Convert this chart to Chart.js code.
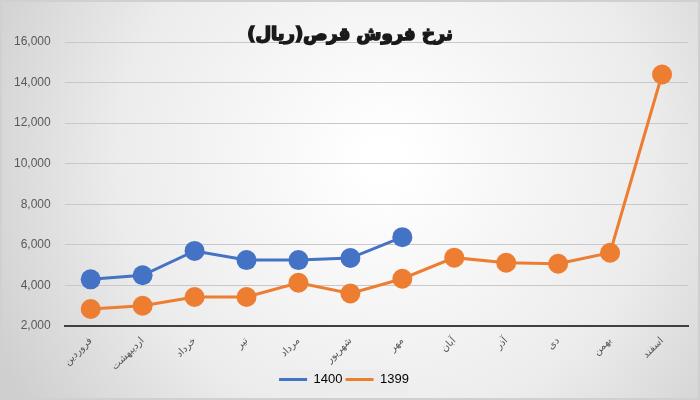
<!DOCTYPE html>
<html>
<head>
<meta charset="utf-8">
<script src="https://cdn.jsdelivr.net/npm/chart.js@4"></script>
<style>
  html, body { margin: 0; padding: 0; background: #fff; }
  #wrap { width: 700px; height: 400px; position: relative; }
</style>
</head>
<body>
<div id="wrap"><canvas id="nerkhChart"></canvas></div>
<script>
// داده‌ها
const mahha = ['فروردین', 'اردیبهشت', 'خرداد', 'تیر', 'مرداد', 'شهریور', 'مهر', 'آبان', 'آذر', 'دی', 'بهمن', 'اسفند'];
const sal1400 = [4300, 4500, 5700, 5250, 5250, 5350, 6380, null, null, null, null, null];
const sal1399 = [2840, 3000, 3430, 3430, 4130, 3600, 4330, 5370, 5120, 5070, 5610, 14400];
const titr = 'نرخ فروش قرص(ریال)';

// پس‌زمینه گرادیانی و عنوان و کادر راهنما
const pasZamine = {
    id: 'pasZamine',
    beforeDraw(chart) {
        const c = chart.ctx;
        const w = chart.width, h = chart.height;
        const g = c.createRadialGradient(w * 0.55, h * 0.4, 20, w * 0.55, h * 0.4, w * 0.62);
        g.addColorStop(0, '#ffffff');
        g.addColorStop(0.6, '#ececec');
        g.addColorStop(1, '#cfcfcf');
        c.save();
        c.fillStyle = g;
        c.fillRect(0, 0, w, h);
        c.strokeStyle = '#d0d0d0';
        c.lineWidth = 2;
        c.strokeRect(1, 1, w - 2, h - 2);
        const lg = chart.legend;
        if (lg) {
            c.fillStyle = 'rgba(236,236,236,1)';
            c.fillRect(lg.left + lg.width / 2 - 64, lg.top, 128, lg.height);
        }
        c.restore();
    },
    afterDraw(chart) {
        const c = chart.ctx;
        c.save();
        c.font = 'bold 18px "DejaVu Sans"';
        c.fillStyle = '#1a1a1a';
        c.strokeStyle = '#1a1a1a';
        c.lineWidth = 1.6;
        c.textAlign = 'center';
        c.textBaseline = 'middle';
        c.direction = 'rtl';
        c.fillText(titr, chart.width / 2, 35);
        c.strokeText(titr, chart.width / 2, 35);
        c.restore();
    }
};

const ctx = document.getElementById('nerkhChart').getContext('2d');
const nerkhChart = new Chart(ctx, {
    type: 'line',
    data: {
        labels: mahha,
        datasets: [{
            label: '1400',
            data: sal1400,
            borderColor: '#4472C4',
            backgroundColor: '#4472C4',
            borderWidth: 3,
            pointRadius: 10,
            pointHoverRadius: 10,
            pointBorderWidth: 0
        }, {
            label: '1399',
            data: sal1399,
            borderColor: '#ED7D31',
            backgroundColor: '#ED7D31',
            borderWidth: 3,
            pointRadius: 10,
            pointHoverRadius: 10,
            pointBorderWidth: 0
        }]
    },
    options: {
        responsive: true,
        maintainAspectRatio: false,
        animation: false,
        layout: { padding: { left: 0, right: 12, top: 42, bottom: 4 } },
        plugins: {
            title: { display: false },
            tooltip: { enabled: false },
            legend: {
                position: 'bottom',
                labels: {
                    boxWidth: 28,
                    boxHeight: 3,
                    color: '#404040',
                    font: { family: 'Liberation Sans', size: 13 },
                    padding: 3,
                    generateLabels(chart) {
                        return chart.data.datasets.map((d, i) => ({
                            text: d.label,
                            fillStyle: d.borderColor,
                            strokeStyle: d.borderColor,
                            lineWidth: 0,
                            datasetIndex: i
                        }));
                    }
                }
            }
        },
        scales: {
            x: {
                offset: true,
                grid: { display: false },
                border: { display: true, color: '#404040', width: 2 },
                afterFit(scale) { scale.height = 44; },
                ticks: {
                    minRotation: 45,
                    maxRotation: 45,
                    padding: 1,
                    color: '#595959',
                    font: { family: 'DejaVu Sans', size: 10 }
                }
            },
            y: {
                min: 2000,
                max: 16000,
                border: { display: false },
                grid: { color: '#c8c8c8', lineWidth: 1, drawTicks: false },
                ticks: {
                    stepSize: 2000,
                    padding: 14,
                    color: '#595959',
                    font: { family: 'Liberation Sans', size: 12 },
                    callback: v => v.toLocaleString('en-US')
                }
            }
        }
    },
    plugins: [pasZamine]
});
</script>
</body>
</html>
